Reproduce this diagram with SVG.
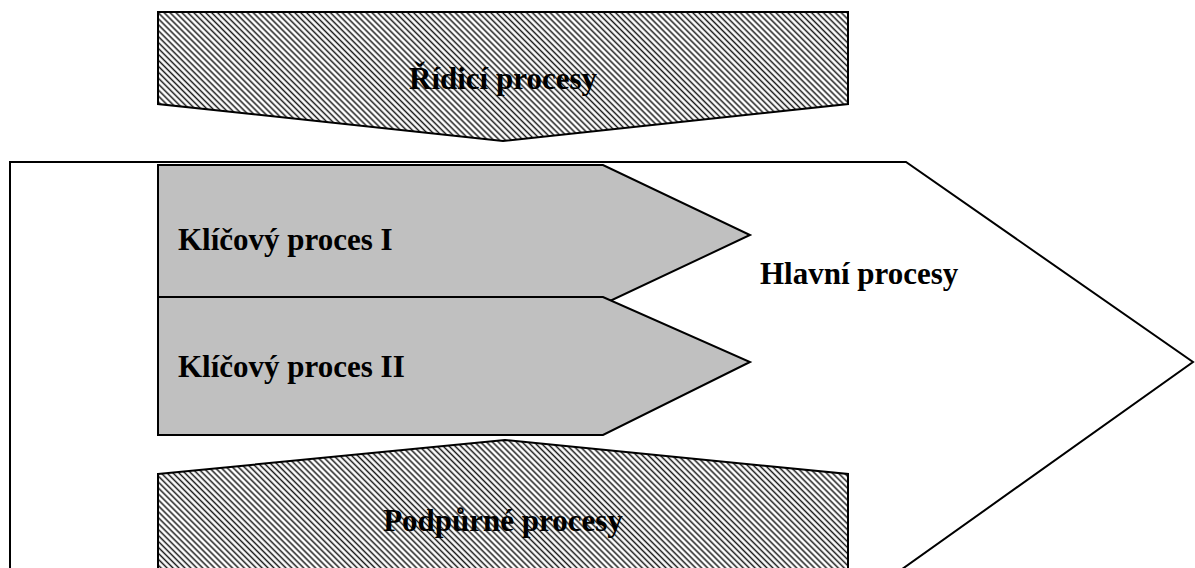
<svg xmlns="http://www.w3.org/2000/svg" width="1195" height="568" viewBox="0 0 1195 568">
  <defs>
    <!-- diagonal hatch used by the control and support process blocks -->
    <pattern id="hatch" patternUnits="userSpaceOnUse" width="8" height="4.2" patternTransform="rotate(45)">
      <rect width="8" height="4.2" fill="#ffffff"/>
      <line x1="0" y1="2.1" x2="8" y2="2.1" stroke="#1a1a1a" stroke-width="1.5"/>
    </pattern>
  </defs>
  <style>
    .edge { stroke: #000; stroke-width: 2; stroke-linejoin: miter; }
    .hatched { fill: url(#hatch); }
    .key { fill: #c0c0c0; }
    .main { fill: #ffffff; }
    .label { font-family: "Liberation Serif", "Times New Roman", serif; font-weight: bold; font-size: 31px; fill: #000; }
  </style>

  <rect width="1195" height="568" fill="#ffffff"/>

  <!-- main process arrow -->
  <g id="hlavni-procesy">
    <polygon class="main edge" points="10,162 906,162 1193,362 898,572 10,572"/>
    <text class="label" x="760" y="284">Hlavní procesy</text>
  </g>

  <!-- control processes -->
  <g id="ridici-procesy">
    <polygon class="hatched edge" points="158,12 848,12 848,104 503,141 158,104"/>
    <text class="label" x="503" y="89" text-anchor="middle">Řídicí procesy</text>
  </g>

  <!-- key process I -->
  <g id="klicovy-proces-1">
    <polygon class="key edge" points="158,165 603,165 750,235 610,301 158,301"/>
    <text class="label" x="178" y="250">Klíčový proces I</text>
  </g>

  <!-- key process II -->
  <g id="klicovy-proces-2">
    <polygon class="key edge" points="158,297 603,297 750,362 603,435 158,435"/>
    <text class="label" x="178" y="377">Klíčový proces II</text>
  </g>

  <!-- support processes -->
  <g id="podpurne-procesy">
    <polygon class="hatched edge" points="158,474 505,440 848,474 848,572 158,572"/>
    <text class="label" x="503" y="531" text-anchor="middle">Podpůrné procesy</text>
  </g>

  <!-- no connectors in this figure -->
  <g id="connectors"/>
</svg>
